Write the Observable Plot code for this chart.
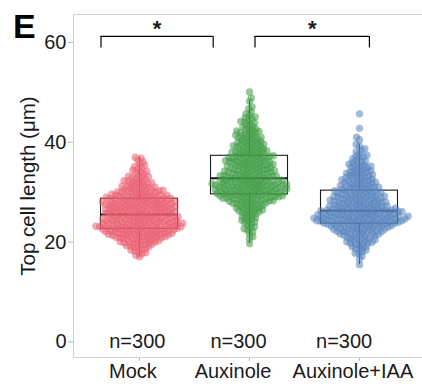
<!DOCTYPE html>
<html><head><meta charset="utf-8">
<script src="https://cdn.jsdelivr.net/npm/d3@7"></script>
<script src="https://cdn.jsdelivr.net/npm/@observablehq/plot@0.6"></script>
<style>body{margin:0;background:#fff}</style>
</head><body><div id="chart"></div>
<script>
const groups = ["Mock", "Auxinole", "Auxinole+IAA"];

const mock = [
17.1,17.4,
18.1,17.7,18.4,17.9,18.2,
19.1,18.7,19.4,18.9,19.2,18.6,19.0,19.3,
20.1,19.7,20.4,19.9,20.2,19.6,20.0,20.3,19.8,19.5,20.3,19.9,20.0,
21.1,20.7,21.4,20.9,21.2,20.6,21.0,21.3,20.8,20.5,21.3,20.9,21.0,20.6,21.2,21.4,20.8,21.1,
22.1,21.7,22.4,21.9,22.2,21.6,22.0,22.3,21.8,21.5,22.3,21.9,22.0,21.6,22.2,22.4,21.8,22.1,21.5,21.7,21.8,22.4,21.6,22.1,
23.1,22.7,23.4,22.9,23.2,22.6,23.0,23.3,22.8,22.5,23.3,22.9,23.0,22.6,23.2,23.4,22.8,23.1,22.5,22.7,22.8,23.4,22.6,23.1,23.3,22.7,23.0,23.2,
24.1,23.7,24.4,23.9,24.2,23.6,24.0,24.3,23.8,23.5,24.3,23.9,24.0,23.6,24.2,24.4,23.8,24.1,23.5,23.7,23.8,24.4,23.6,24.1,24.3,23.7,
25.1,24.7,25.4,24.9,25.2,24.6,25.0,25.3,24.8,24.5,25.3,24.9,25.0,24.6,25.2,25.4,24.8,25.1,24.5,24.7,24.8,25.4,24.6,25.1,
26.1,25.7,26.4,25.9,26.2,25.6,26.0,26.3,25.8,25.5,26.3,25.9,26.0,25.6,26.2,26.4,25.8,26.1,25.5,25.7,25.8,26.4,25.6,26.1,
27.1,26.7,27.4,26.9,27.2,26.6,27.0,27.3,26.8,26.5,27.3,26.9,27.0,26.6,27.2,27.4,26.8,27.1,26.5,26.7,26.8,27.4,26.6,27.1,
28.1,27.7,28.4,27.9,28.2,27.6,28.0,28.3,27.8,27.5,28.3,27.9,28.0,27.6,28.2,28.4,27.8,28.1,27.5,27.7,27.8,28.4,27.6,28.1,
29.1,28.7,29.4,28.9,29.2,28.6,29.0,29.3,28.8,28.5,29.3,28.9,29.0,28.6,29.2,29.4,28.8,29.1,28.5,28.7,28.8,29.4,
30.1,29.7,30.4,29.9,30.2,29.6,30.0,30.3,29.8,29.5,30.3,29.9,30.0,29.6,30.2,30.4,
31.1,30.7,31.4,30.9,31.2,30.6,31.0,31.3,30.8,30.5,31.3,30.9,
32.1,31.7,32.4,31.9,32.2,31.6,32.0,32.3,31.8,
33.1,32.7,33.4,32.9,33.2,32.6,33.0,
34.1,33.7,34.4,33.9,34.2,
35.1,34.7,35.4,34.9,
36.1,35.7,36.4,
36.8,37.0
];

const auxinole = [
19.7,
21.1,20.7,
22.1,21.7,22.4,
23.1,22.7,23.4,22.9,
24.1,23.7,24.4,23.9,24.2,
25.1,24.7,25.4,24.9,25.2,24.6,
26.1,25.7,26.4,25.9,26.2,25.6,26.0,26.3,
27.1,26.7,27.4,26.9,27.2,26.6,27.0,27.3,26.8,26.5,
28.1,27.7,28.4,27.9,28.2,27.6,28.0,28.3,27.8,27.5,28.3,27.9,28.0,27.6,
29.1,28.7,29.4,28.9,29.2,28.6,29.0,29.3,28.8,28.5,29.3,28.9,29.0,28.6,29.2,29.4,28.8,29.1,28.5,28.7,
30.1,29.7,30.4,29.9,30.2,29.6,30.0,30.3,29.8,29.5,30.3,29.9,30.0,29.6,30.2,30.4,29.8,30.1,29.5,29.7,29.8,30.4,29.6,30.1,
31.1,30.7,31.4,30.9,31.2,30.6,31.0,31.3,30.8,30.5,31.3,30.9,31.0,30.6,31.2,31.4,30.8,31.1,30.5,30.7,30.8,31.4,30.6,31.1,
32.1,31.7,32.4,31.9,32.2,31.6,32.0,32.3,31.8,31.5,32.3,31.9,32.0,31.6,32.2,32.4,31.8,32.1,31.5,31.7,31.8,32.4,31.6,32.1,
33.1,32.7,33.4,32.9,33.2,32.6,33.0,33.3,32.8,32.5,33.3,32.9,33.0,32.6,33.2,33.4,32.8,33.1,
34.1,33.7,34.4,33.9,34.2,33.6,34.0,34.3,33.8,33.5,34.3,33.9,34.0,33.6,34.2,34.4,33.8,
35.1,34.7,35.4,34.9,35.2,34.6,35.0,35.3,34.8,34.5,35.3,34.9,35.0,34.6,35.2,35.4,
36.1,35.7,36.4,35.9,36.2,35.6,36.0,36.3,35.8,35.5,36.3,35.9,36.0,35.6,36.2,36.4,
37.1,36.7,37.4,36.9,37.2,36.6,37.0,37.3,36.8,36.5,37.3,36.9,37.0,36.6,37.2,
38.1,37.7,38.4,37.9,38.2,37.6,38.0,38.3,37.8,37.5,38.3,37.9,38.0,
39.1,38.7,39.4,38.9,39.2,38.6,39.0,39.3,38.8,38.5,39.3,
40.1,39.7,40.4,39.9,40.2,39.6,40.0,40.3,39.8,39.5,
41.1,40.7,41.4,40.9,41.2,40.6,41.0,41.3,40.8,
42.1,41.7,42.4,41.9,42.2,41.6,42.0,42.3,
43.1,42.7,43.4,42.9,43.2,42.6,
44.1,43.7,44.4,43.9,44.2,
45.1,44.7,45.4,44.9,
46.1,45.7,
47.1,46.7,
48.2,
48.9,
50.1
];

const auxinoleIAA = [
15.5,
16.6,
17.2,17.7,
18.1,17.8,18.4,
19.1,18.7,19.4,18.9,19.2,18.6,
20.1,19.7,20.4,19.9,20.2,19.6,20.0,20.3,19.8,
21.1,20.7,21.4,20.9,21.2,20.6,21.0,21.3,20.8,20.5,21.3,
22.1,21.7,22.4,21.9,22.2,21.6,22.0,22.3,21.8,21.5,22.3,21.9,22.0,21.6,22.2,
23.1,22.7,23.4,22.9,23.2,22.6,23.0,23.3,22.8,22.5,23.3,22.9,23.0,22.6,23.2,23.4,22.8,23.1,22.5,22.7,
24.1,23.7,24.4,23.9,24.2,23.6,24.0,24.3,23.8,23.5,24.3,23.9,24.0,23.6,24.2,24.4,23.8,24.1,23.5,23.7,23.8,24.4,23.6,24.1,24.3,23.7,24.0,24.2,
25.1,24.7,25.4,24.9,25.2,24.6,25.0,25.3,24.8,24.5,25.3,24.9,25.0,24.6,25.2,25.4,24.8,25.1,24.5,24.7,24.8,25.4,24.6,25.1,25.3,24.7,25.0,25.2,24.9,24.5,
26.1,25.7,26.4,25.9,26.2,25.6,26.0,26.3,25.8,25.5,26.3,25.9,26.0,25.6,26.2,26.4,25.8,26.1,25.5,25.7,25.8,26.4,25.6,26.1,26.3,25.7,26.0,26.2,
27.1,26.7,27.4,26.9,27.2,26.6,27.0,27.3,26.8,26.5,27.3,26.9,27.0,26.6,27.2,27.4,26.8,27.1,26.5,26.7,26.8,27.4,
28.1,27.7,28.4,27.9,28.2,27.6,28.0,28.3,27.8,27.5,28.3,27.9,28.0,27.6,28.2,28.4,27.8,28.1,
29.1,28.7,29.4,28.9,29.2,28.6,29.0,29.3,28.8,28.5,29.3,28.9,29.0,28.6,29.2,29.4,28.8,
30.1,29.7,30.4,29.9,30.2,29.6,30.0,30.3,29.8,29.5,30.3,29.9,30.0,29.6,30.2,
31.1,30.7,31.4,30.9,31.2,30.6,31.0,31.3,30.8,30.5,31.3,30.9,31.0,
32.1,31.7,32.4,31.9,32.2,31.6,32.0,32.3,31.8,31.5,32.3,31.9,
33.1,32.7,33.4,32.9,33.2,32.6,33.0,33.3,32.8,32.5,
34.1,33.7,34.4,33.9,34.2,33.6,34.0,34.3,33.8,33.5,
35.1,34.7,35.4,34.9,35.2,34.6,35.0,35.3,
36.1,35.7,36.4,35.9,36.2,35.6,
37.1,36.7,37.4,36.9,37.2,
38.1,37.7,38.4,
39.2,38.7,
39.6,40.5,
41.0,
42.8,
45.7
];

const yTicks = [0, 20, 40, 60];
const groupLabelX = [-0.06, 0.85, 1.94];
const nLabelX = [-0.02, 0.9, 1.86];
const nLabelY = 0;
const sigX1 = [-0.35, 1.05];
const sigX2 = [0.67, 2.09];
const sigLabels = ["*", "*"];
const sigY = 61.2, sigTip = 58.9, sigTextY = 62.8;
const panelLabel = "E";
const yLabel = "Top cell length (μm)";

// layout / style
const W = 422, H = 386, mL = 73, mR = 0, mT = 14, mB = 29;
const xDomain = [-0.6, 2.5727], yDomain = [-3.1, 65.6];
const pxX = (W - mL - mR) / (xDomain[1] - xDomain[0]);
const pxY = (H - mT - mB) / (yDomain[1] - yDomain[0]);
const colors = ["#EA5C70", "#3F9C45", "#5684BE"];
const boxHalf = 0.35;
const collide = 3.9;

function swarm(values, d) {
  const order = d3.range(values.length).sort((a, b) => values[a] - values[b]);
  const placed = [];
  const out = new Array(values.length);
  let flip = 1;
  for (const i of order) {
    const py = values[i] * pxY;
    const nb = placed.filter(p => Math.abs(p.py - py) < d);
    const cands = [0];
    for (const p of nb) {
      const dx = Math.sqrt(d * d - (p.py - py) ** 2);
      cands.push(p.x + dx, p.x - dx);
    }
    cands.sort((a, b) => (Math.abs(a) - Math.abs(b)) || flip * (b - a));
    let x = 0;
    for (const c of cands) {
      if (nb.every(p => (p.x - c) ** 2 + (p.py - py) ** 2 >= d * d - 1e-6)) { x = c; break; }
    }
    flip = -flip;
    placed.push({x, py});
    out[i] = x;
  }
  return out;
}

const series = [mock, auxinole, auxinoleIAA];
const points = [], stats = [];
series.forEach((vals, gi) => {
  const off = swarm(vals, collide);
  vals.forEach((v, j) => points.push({g: groups[gi], y: v, x: gi + off[j] / pxX}));
  const s = vals.slice().sort(d3.ascending);
  const q1 = d3.quantile(s, 0.25), med = d3.quantile(s, 0.5), q3 = d3.quantile(s, 0.75);
  const iqr = q3 - q1;
  const lo = d3.min(s.filter(v => v >= q1 - 1.5 * iqr));
  const hi = d3.max(s.filter(v => v <= q3 + 1.5 * iqr));
  stats.push({g: groups[gi], gi, q1, med, q3, lo, hi, n: vals.length, nx: nLabelX[gi], lx: groupLabelX[gi]});
});
const sigs = sigX1.map((x1, i) => ({x1, x2: sigX2[i], label: sigLabels[i]}));

const chart = Plot.plot({
  width: W, height: H,
  marginLeft: mL, marginRight: mR, marginTop: mT, marginBottom: mB,
  style: {fontFamily: "'Liberation Sans', Arial, sans-serif", fontSize: "20px", color: "#1a1a1a", background: "#fff", overflow: "visible"},
  x: {domain: xDomain, ticks: [0, 1, 2], tickFormat: () => "", tickSize: 4, tickPadding: 2, label: null},
  y: {domain: yDomain, ticks: yTicks, tickSize: 5, tickPadding: 2, label: null},
  color: {domain: groups, range: colors},
  marks: [
    Plot.ruleX([xDomain[0]], {y1: () => yDomain[0], y2: () => yDomain[1], stroke: "#d2d2d2"}),
    Plot.ruleY([yDomain[0], yDomain[1]], {stroke: "#d2d2d2"}),
    Plot.ruleX(stats, {x: "gi", y1: "lo", y2: "q1", stroke: "#222"}),
    Plot.ruleX(stats, {x: "gi", y1: "q3", y2: "hi", stroke: "#222"}),
    Plot.rect(stats, {x1: d => d.gi - boxHalf, x2: d => d.gi + boxHalf, y1: "q1", y2: "q3", fill: "none", stroke: "#1a1a1a", strokeWidth: 1.1}),
    Plot.ruleY(stats, {x1: d => d.gi - boxHalf, x2: d => d.gi + boxHalf, y: "med", stroke: "#111", strokeWidth: 2}),
    Plot.dot(points, {x: "x", y: "y", r: 3.7, fill: "g", fillOpacity: 0.55, stroke: null}),
    Plot.text(stats, {x: "nx", y: () => nLabelY, text: d => "n=" + d.n, fontSize: 20}),
    Plot.text(stats, {x: "lx", frameAnchor: "bottom", text: "g", lineAnchor: "top", dy: 6, fontSize: 20}),
    Plot.ruleY(sigs, {x1: "x1", x2: "x2", y: () => sigY, stroke: "#000", strokeWidth: 1.2}),
    Plot.ruleX(sigs, {x: "x1", y1: () => sigTip, y2: () => sigY, stroke: "#000", strokeWidth: 1.2}),
    Plot.ruleX(sigs, {x: "x2", y1: () => sigTip, y2: () => sigY, stroke: "#000", strokeWidth: 1.2}),
    Plot.text(sigs, {x: d => (d.x1 + d.x2) / 2, y: () => sigTextY, text: "label", fontSize: 22, fontWeight: "bold"}),
    Plot.text([panelLabel], {frameAnchor: "top-left", text: d => d, dx: -60.5, dy: -1, lineAnchor: "top", textAnchor: "start", fontSize: 34, fontWeight: "bold", fill: "#000"}),
    Plot.text([yLabel], {frameAnchor: "left", text: d => d, rotate: -90, textAnchor: "middle", lineAnchor: "middle", dx: -45, fontSize: 20.5})
  ]
});
document.getElementById("chart").appendChild(chart);
const sel = d3.select(chart);
sel.selectAll("[aria-label='y-axis tick'], [aria-label='x-axis tick']").attr("stroke", "#b5b5b5");
sel.selectAll("[aria-label='y-axis'] .tick line, [aria-label='x-axis'] .tick line").attr("stroke", "#b5b5b5");
</script>
</body></html>
